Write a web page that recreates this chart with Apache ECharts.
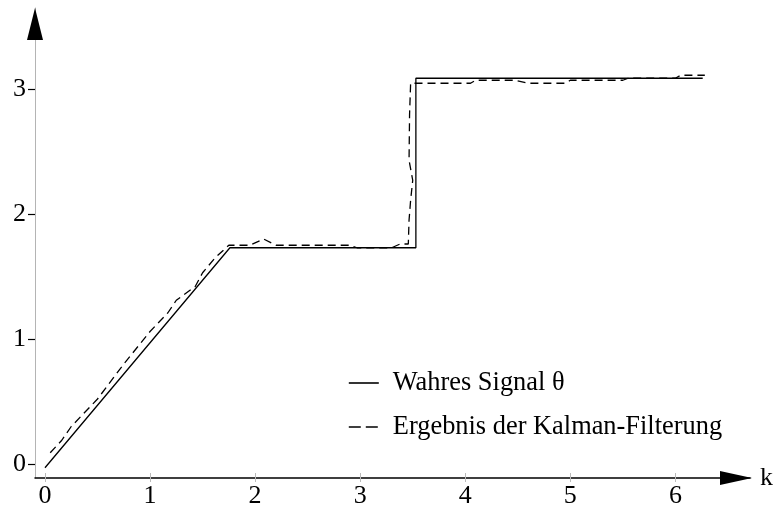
<!DOCTYPE html>
<html><head><meta charset="utf-8">
<script src="https://cdn.jsdelivr.net/npm/echarts@6/dist/echarts.min.js"></script>
<style>html,body{margin:0;padding:0;background:#fff}#c{width:778px;height:513px}</style>
</head><body><div id="c"></div>
<script>
const xTicks = [0, 1, 2, 3, 4, 5, 6];
const yTicks = [0, 1, 2, 3];
const seriesNames = ['Wahres Signal θ', 'Ergebnis der Kalman-Filterung'];
const axisNameX = 'k';

const signalK     = [0, 1.76, 3.53, 3.53, 6.26];
const signalTheta = [-0.03, 1.73, 1.73, 3.086, 3.086];

const kalmanK     = [0.05, 0.16, 0.25, 0.5, 0.75, 1.0, 1.17, 1.25, 1.43, 1.5, 1.62, 1.75, 1.95, 2.08, 2.2, 2.9, 2.97, 3.3, 3.38, 3.458, 3.465, 3.48, 3.50, 3.465, 3.47, 3.48, 3.53, 4.05, 4.1, 4.47, 4.6, 4.95, 5.0, 5.5, 5.55, 6.0, 6.05, 6.28];
const kalmanTheta = [0.09, 0.19, 0.30, 0.52, 0.80, 1.06, 1.21, 1.31, 1.42, 1.53, 1.65, 1.75, 1.75, 1.80, 1.75, 1.75, 1.73, 1.73, 1.76, 1.76, 1.95, 2.11, 2.27, 2.43, 2.8, 3.046, 3.046, 3.046, 3.07, 3.07, 3.046, 3.046, 3.07, 3.07, 3.086, 3.086, 3.11, 3.11];

const xMin = -0.095, xMax = 6.71, yMin = -0.112, yMax = 3.648;
const font = 'Liberation Serif, Times New Roman, serif';

const zip = (a, b) => a.map((v, i) => [v, b[i]]);

const chart = echarts.init(document.getElementById('c'), null, {renderer: 'canvas'});
const option = {
  animation: false,
  backgroundColor: '#fff',
  grid: {left: 35, right: 28, top: 8, bottom: 35, containLabel: false},
  xAxis: [{
    type: 'value', min: xMin, max: xMax,
    name: axisNameX, nameLocation: 'end', nameGap: 10,
    nameTextStyle: {fontFamily: font, fontSize: 26, color: '#000', verticalAlign: 'middle'},
    axisLine: {show: true, onZero: false, lineStyle: {color: '#000', width: 1.5}},
    axisTick: {show: true, length: 4, customValues: xTicks, lineStyle: {color: '#bbb', width: 1}},
    axisLabel: {show: true, customValues: xTicks, margin: 5, fontFamily: font, fontSize: 26, color: '#000'},
    splitLine: {show: false}
  }, {
    type: 'value', min: xMin, max: xMax, position: 'bottom',
    axisLine: {show: false, onZero: false},
    axisTick: {show: true, inside: true, length: 5, customValues: xTicks, lineStyle: {color: '#bbb', width: 1}},
    axisLabel: {show: false},
    splitLine: {show: false}
  }],
  yAxis: [{
    type: 'value', min: yMin, max: yMax,
    axisLine: {show: true, onZero: false, lineStyle: {color: '#b4b4b4', width: 1}},
    axisTick: {show: true, length: 7, customValues: yTicks, lineStyle: {color: '#000', width: 1.2}},
    axisLabel: {show: true, customValues: yTicks, margin: 9, fontFamily: font, fontSize: 26, color: '#000'},
    splitLine: {show: false}
  }],
  legend: {
    orient: 'vertical', left: 343, top: 365, itemGap: 18,
    itemWidth: 30, itemHeight: 14,
    itemStyle: {color: 'rgba(0,0,0,0)', borderWidth: 0, opacity: 0},
    formatter: name => '{t|' + name + '}',
    textStyle: {
      fontFamily: font, fontSize: 26, color: '#000',
      rich: {t: {fontFamily: font, fontSize: 26.4, color: '#000', padding: [0, 0, 0, 9]}}
    },
    data: [
      {name: seriesNames[0], itemStyle: {color: 'rgba(0,0,0,0)', borderWidth: 0, opacity: 0},
       lineStyle: {color: '#000', width: 1.6, type: 'solid'}},
      {name: seriesNames[1], itemStyle: {color: 'rgba(0,0,0,0)', borderWidth: 0, opacity: 0},
       lineStyle: {color: '#000', width: 1.6, type: [12, 5]}}
    ]
  },
  series: [{
    name: seriesNames[0], type: 'line', xAxisIndex: 0, yAxisIndex: 0,
    data: zip(signalK, signalTheta), showSymbol: false, symbol: 'none',
    lineStyle: {color: '#000', width: 1.3}, itemStyle: {color: '#000'}, z: 3
  }, {
    name: seriesNames[1], type: 'line', xAxisIndex: 0, yAxisIndex: 0,
    data: zip(kalmanK, kalmanTheta), showSymbol: false, symbol: 'none',
    lineStyle: {color: '#000', width: 1.3, type: [8, 5]}, itemStyle: {color: '#000'}, z: 2
  }]
};
chart.setOption(option);

// Axis arrow heads, placed through the axes' own scales
const yTip = chart.convertToPixel({yAxisIndex: 0}, yMax);
const yAxisX = chart.convertToPixel({xAxisIndex: 0}, xMin);
const xTip = chart.convertToPixel({xAxisIndex: 0}, xMax);
const xAxisY = chart.convertToPixel({yAxisIndex: 0}, yMin);
chart.setOption({
  graphic: [{
    type: 'polygon', z: 10,
    shape: {points: [[yAxisX, yTip], [yAxisX - 8, yTip + 32], [yAxisX + 8, yTip + 32]]},
    style: {fill: '#000'}
  }, {
    type: 'polygon', z: 10,
    shape: {points: [[xTip + 2, xAxisY], [xTip - 30, xAxisY - 7], [xTip - 30, xAxisY + 7]]},
    style: {fill: '#000'}
  }]
});
</script></body></html>
